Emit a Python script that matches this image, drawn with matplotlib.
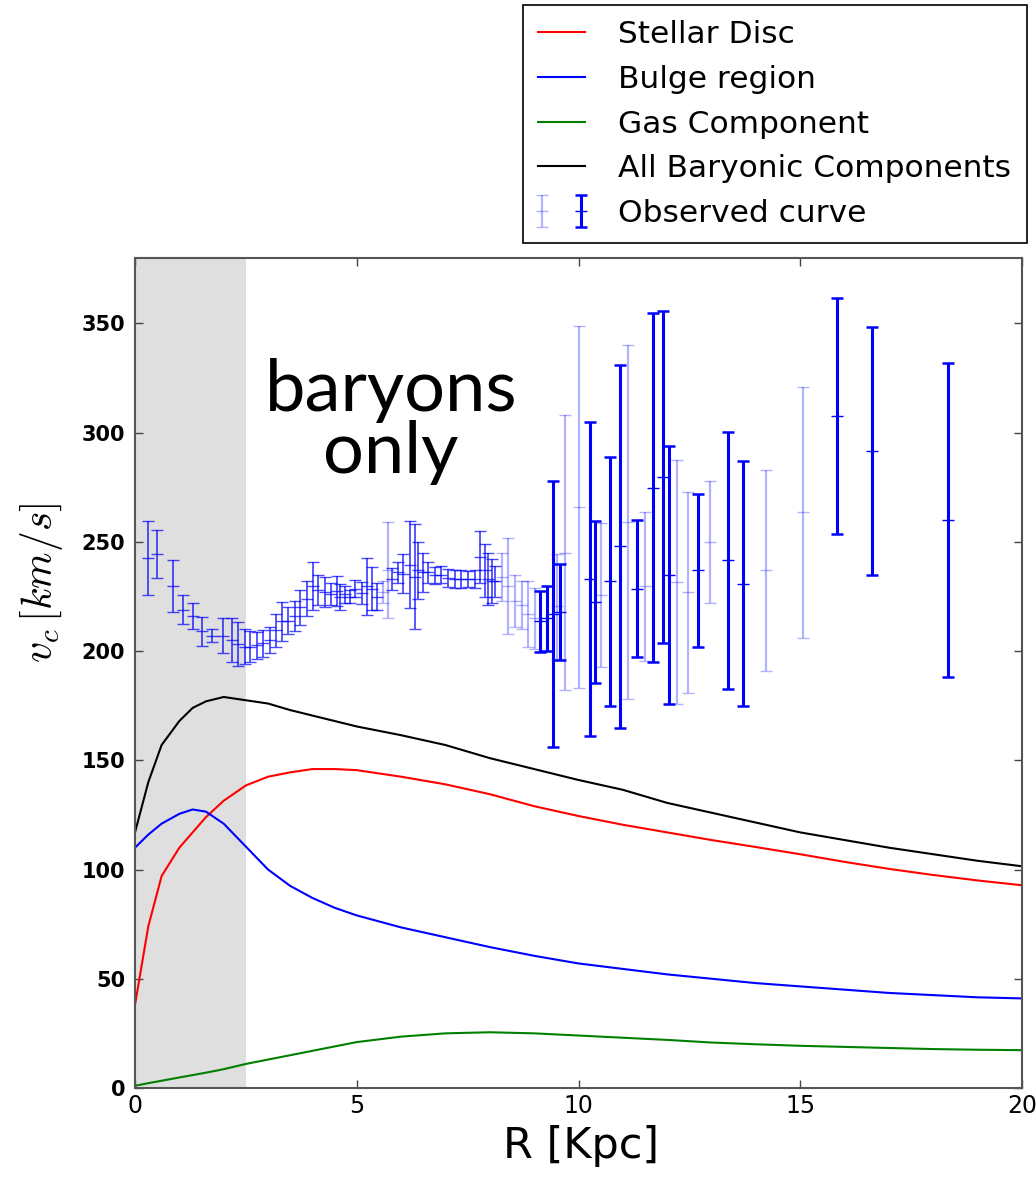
import numpy as np
import matplotlib
matplotlib.use("Agg")
import matplotlib.pyplot as plt
from matplotlib.legend_handler import HandlerTuple

plt.rcParams['mathtext.fontset'] = 'cm'
plt.rcParams['font.family'] = ['DejaVu Sans']

# model curves (km/s) sampled at R (kpc)
R_model = [0, 0.3, 0.6, 1.0, 1.3, 1.6, 2.0, 2.5, 3.0, 3.5, 4.0, 4.5, 5, 6, 7,
           8, 9, 10, 11, 12, 13, 14, 15, 16, 17, 18, 19, 20]
v_disc = [38, 74, 97, 110, 117, 124, 131.5, 138.5, 142.5, 144.5, 146, 146, 145.5,
          142.5, 139, 134.5, 129, 124.5, 120.5, 117, 113.5, 110.3, 107, 103.5,
          100.3, 97.5, 95, 92.8]
v_bulge = [110, 116, 121, 125.5, 127.5, 126.5, 121, 110.5, 100, 92.5, 87, 82.5, 79,
           73.5, 69, 64.5, 60.5, 57, 54.5, 52, 50, 48, 46.5, 45, 43.5, 42.5, 41.5, 41]
v_gas = [1, 2.2, 3.3, 4.8, 5.9, 7, 8.6, 11, 13, 15, 17, 19, 21, 23.5, 25, 25.5, 25,
         24, 23, 22, 20.8, 20, 19.3, 18.8, 18.3, 17.8, 17.5, 17.3]
v_total = [117, 140, 157, 168, 174, 177, 179, 177.5, 176, 173, 170.5, 168, 165.5,
           161.5, 157, 151, 146, 141, 136.5, 130.5, 126, 121.5, 117, 113.5, 110,
           107, 104, 101.5]

# observed rotation curve: inner dense points
R_in = [0.30, 0.50, 0.85, 1.09, 1.31, 1.50, 1.73, 1.99, 2.18, 2.33, 2.48, 2.59, 2.74,
        2.89, 3.04, 3.19, 3.31, 3.46, 3.61, 3.72, 3.87, 4.02, 4.13, 4.28, 4.43, 4.55,
        4.62, 4.73, 4.85, 4.96, 5.11, 5.22, 5.34, 5.45, 5.79, 5.94, 6.05, 6.19, 6.31,
        6.38, 6.50, 6.60, 6.76, 6.91, 7.06, 7.21, 7.36, 7.51, 7.66, 7.78, 7.89, 7.97,
        8.04, 8.12]
v_in = [242.7, 244.5, 229.7, 219, 216, 209, 207, 207, 205, 203.4, 202, 202, 202.6,
        203.5, 205, 209.5, 213.7, 214, 216, 220, 224, 230, 228, 227, 226, 227.5,
        224.6, 226, 225, 228.6, 226.5, 229.7, 228.6, 225, 233, 236, 235.5, 239.6, 234,
        237, 236, 236, 234.7, 235, 233.5, 233, 233, 233, 233, 243, 237, 233, 232, 232]
e_in = [17, 11, 12, 6.5, 6, 6.5, 3, 8, 10, 10, 8, 7, 6, 6, 6, 7.5, 9, 6, 7, 8, 8, 11,
        7, 7, 5, 7, 6, 4, 3, 4, 5, 13, 10, 6, 5, 5, 9, 20, 24, 13, 9, 5, 4, 4, 4, 4,
        4, 3.5, 4, 12, 12, 12, 10, 7]

# faint points
R_lt = [5.60, 5.71, 8.27, 8.42, 8.57, 8.72, 8.87, 9.02, 9.51, 9.70, 10.0, 10.5,
        11.12, 11.5, 12.21, 12.48, 12.97, 14.23, 15.07]
v_lt = [227, 237, 234, 230, 223, 221, 217, 215, 220.6, 245, 266, 225.5, 259, 229.7,
        231.6, 227, 250, 237, 263.6]
e_lt = [5, 22, 11, 22, 12, 11, 15, 14, 24, 63, 83, 33, 81, 34, 56, 46, 28, 46, 57.5]

# strong points
R_dk = [9.13, 9.28, 9.42, 9.59, 10.25, 10.38, 10.71, 10.94, 11.31, 11.69, 11.91,
        12.03, 12.70, 13.38, 13.72, 15.82, 16.61, 18.34]
v_dk = [213.7, 215, 217, 218, 233, 222.5, 232, 248, 228.6, 274.8, 279.7, 234.7, 237,
        241.5, 230.9, 307.5, 291.6, 260]
e_dk = [14, 15, 61, 22, 72, 37, 57, 83, 31.5, 80, 76, 59, 35, 59, 56, 54, 56.7, 72]

fig = plt.figure(figsize=(10.36, 11.8), dpi=100)
ax = fig.add_axes([0.1303, 0.0780, 0.8562, 0.7034])

ax.axvspan(0, 2.5, color='0.875', zorder=0, lw=0)

l1, = ax.plot(R_model, v_disc, color='red', lw=1.5, label='Stellar Disc')
l2, = ax.plot(R_model, v_bulge, color='blue', lw=1.5, label='Bulge region')
l3, = ax.plot(R_model, v_gas, color='green', lw=1.5, label='Gas Component')
l4, = ax.plot(R_model, v_total, color='black', lw=1.5, label='All Baryonic Components')

ax.errorbar(R_in, v_in, yerr=e_in, fmt='_', color='blue', ms=9, elinewidth=1.3,
            capsize=4.5, alpha=0.7)
eb_lt = ax.errorbar(R_lt, v_lt, yerr=e_lt, fmt='_', color='blue', ms=9,
                    elinewidth=1.6, capsize=4.5, alpha=0.3)
eb_dk = ax.errorbar(R_dk, v_dk, yerr=e_dk, fmt='_', color='blue', ms=9,
                    elinewidth=2.2, capsize=4.5, capthick=1.8)

ax.text(5.77, 305, 'baryons\nonly', family='Lato', fontsize=52,
        ha='center', va='center', linespacing=0.95)

ax.set_xlim(0, 20)
ax.set_ylim(0, 380)
ax.set_xticks([0, 5, 10, 15, 20])
ax.set_yticks(range(0, 351, 50))
ax.tick_params(direction='in', top=True, right=True, length=6, width=1, color='#444')
ax.tick_params(axis='y', labelsize=15, pad=7)
ax.tick_params(axis='x', labelsize=17, pad=4)
for lab in ax.get_yticklabels():
    lab.set_fontweight('bold')
for sp in ax.spines.values():
    sp.set_color('#555')
    sp.set_linewidth(1.5)

ax.set_xlabel('R [Kpc]', fontsize=31, va='top')
ax.xaxis.set_label_coords(0.503, -0.045)
ax.set_ylabel(r'$v_c\,[km/s]$', fontsize=30)
ax.yaxis.set_label_coords(-0.079, 0.608)

leg = fig.legend([l1, l2, l3, l4, (eb_lt, eb_dk)],
                 ['Stellar Disc', 'Bulge region', 'Gas Component',
                  'All Baryonic Components', 'Observed curve'],
                 handler_map={tuple: HandlerTuple(ndivide=None, pad=1.0)},
                 loc='upper right', bbox_to_anchor=(0.991, 0.996),
                 fontsize=22.5, fancybox=False, framealpha=1, edgecolor='black',
                 handlelength=1.5, handletextpad=1.05, labelspacing=0.5,
                 borderpad=0.5, borderaxespad=0.0)
leg.get_frame().set_linewidth(1.2)

fig.savefig('out.png', dpi=100)
